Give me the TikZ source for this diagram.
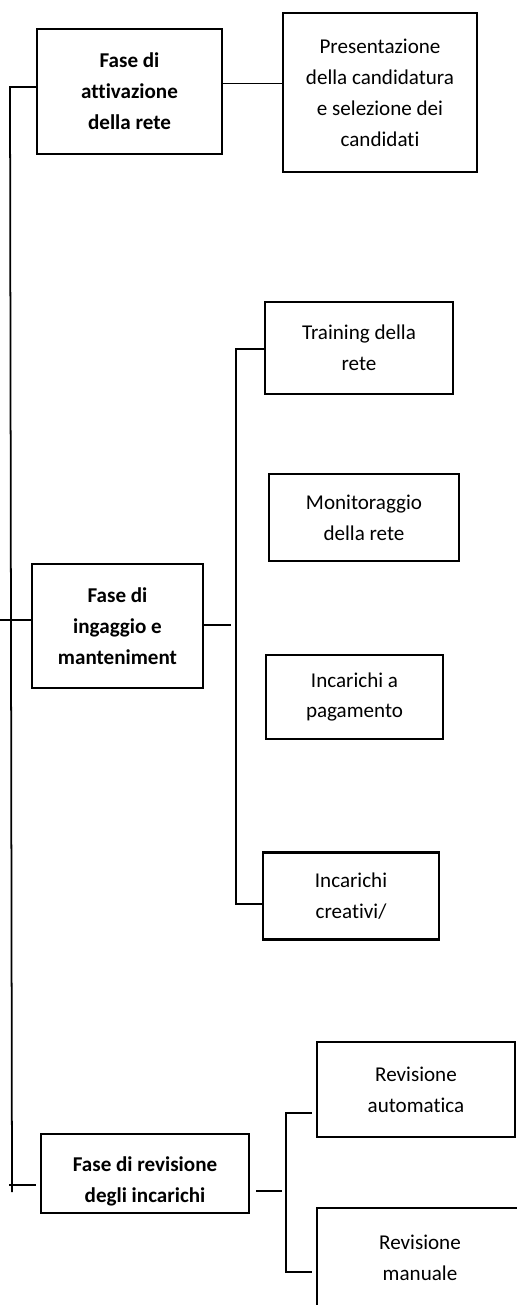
\documentclass[tikz,border=0pt]{standalone}
\usepackage{fontspec}
\setmainfont{Carlito}[Ligatures=NoCommon]
\usepackage{tikz}
\usetikzlibrary{positioning, calc}

\tikzset{
	fasebox/.style={draw, line width=1.2pt, align=center, inner sep=0pt,
		font=\bfseries\fontsize{12pt}{17.6pt}\selectfont},
	attbox/.style={draw, line width=1.2pt, align=center, inner sep=0pt,
		font=\fontsize{12pt}{17.6pt}\selectfont},
	link/.style={line width=1pt}
}

\begin{document}
\begin{tikzpicture}[x=0.02cm, y=-0.02cm]
	
	%//frame of the page
	\useasboundingbox (0,0) rectangle (517,1305);
	\clip (0,0) rectangle (517,1305);
	
	%//phases
	\node [fasebox, minimum width=3.7cm, minimum height=2.5cm] (attiv) at (129.5,91.5) {Fase di\\attivazione\\della rete};
	\node [fasebox, minimum width=3.42cm, minimum height=2.48cm] (ingaggio) at (117.5,626) {Fase di\\ingaggio e\\manteniment};
	\node [fasebox, minimum width=4.16cm, minimum height=1.58cm] (revisione) at (145,1173.5) {\rule{0pt}{17pt}Fase di revisione\\degli incarichi};
	
	%//activities
	\node [attbox, minimum width=3.88cm, minimum height=3.18cm] (presenta) at (380,92.5) {Presentazione\\della candidatura\\e selezione dei\\candidati};
	\node [attbox, minimum width=3.76cm, minimum height=1.84cm] (training) at (359,348) {Training della\\rete};
	\node [attbox, minimum width=3.8cm, minimum height=1.74cm] (monitor) at (364,517.5) {Monitoraggio\\della rete};
	\node [attbox, minimum width=3.54cm, minimum height=1.68cm] (pagamento) at (354.5,697) {Incarichi a\\pagamento};
	\node [attbox, minimum width=3.52cm, minimum height=1.74cm] (creativi) at (351,896) {Incarichi\\creativi/};
	\node [attbox, minimum width=3.96cm, minimum height=1.9cm] (automatica) at (416,1089.5) {Revisione\\automatica};
	\node [attbox, minimum width=4.12cm, minimum height=2cm] (manuale) at (420,1258) {Revisione\\manuale};
	
	%//main line on the left
	\coordinate (busTop) at (10,87);
	\coordinate (busBot) at (12,1192);
	\coordinate (ingIn) at (0,620);
	\coordinate (revIn) at (9,1185);
	\draw [link] (attiv.west |- busTop) -- (busTop) -- (busBot);
	\draw [link] (ingIn) -- (ingaggio.west |- ingIn);
	\draw [link, shorten >=2.3pt] (revIn) -- (revisione.west |- revIn);
	
	\draw [link] ($(attiv.east)+(0,-8)$) -- ($(presenta.west)+(0,-9)$);
	
	%//engagement branch
	\coordinate (ibusTop) at (236,349);
	\coordinate (ibusBot) at (236,904);
	\draw [link, shorten >=2.8pt] ($(ingaggio.east)+(0,-1)$) -- ($(ingaggio.east -| ibusTop)+(0,-1)$);
	\draw [link] (training.west |- ibusTop) -- (ibusTop) -- (ibusBot) -- (creativi.west |- ibusBot);
	
	%//review branch
	\coordinate (rbusTop) at (286,1113);
	\coordinate (rbusBot) at (286,1272);
	\draw [link, shorten <=3.4pt, shorten >=2.3pt] ($(revisione.east)+(0,17.5)$) -- ($(revisione.east -| rbusTop)+(0,17.5)$);
	\draw [link, shorten <=2.3pt, shorten >=2.3pt] (automatica.west |- rbusTop) -- (rbusTop) -- (rbusBot) -- (manuale.west |- rbusBot);
	
\end{tikzpicture}
\end{document}
